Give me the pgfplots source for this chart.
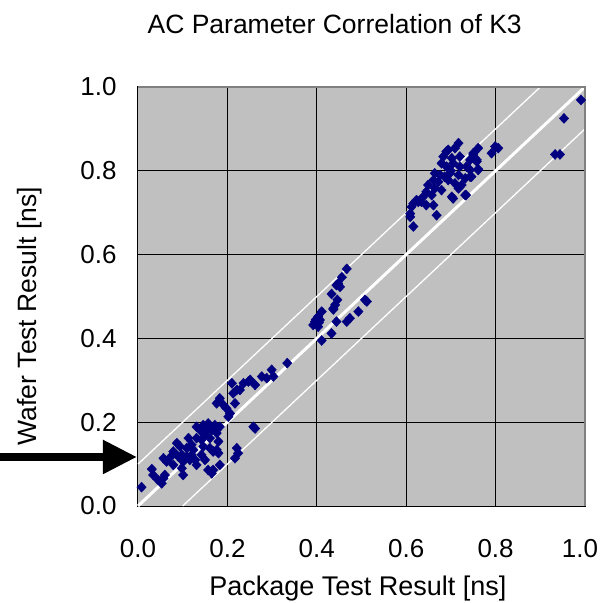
\documentclass[border=0pt]{standalone}
\usepackage{fontspec}
\setmainfont{Liberation Sans}
\usepackage{pgfplots}
\pgfplotsset{compat=1.18}
\usepackage{pgfplotstable}
\usetikzlibrary{arrows.meta}

\definecolor{bggray}{HTML}{C0C0C0}
\definecolor{ptblue}{HTML}{000080}
\definecolor{edgegray}{HTML}{808080}

% package result vs wafer result
\pgfplotstableread{
x y
0.008 0.045
0.031 0.088
0.034 0.074
0.045 0.062
0.053 0.054
0.057 0.066
0.060 0.074
0.057 0.114
0.064 0.106
0.072 0.116
0.079 0.130
0.087 0.150
0.094 0.142
0.098 0.122
0.101 0.106
0.109 0.118
0.116 0.110
0.120 0.122
0.113 0.162
0.120 0.146
0.131 0.189
0.139 0.181
0.146 0.193
0.157 0.197
0.165 0.181
0.150 0.169
0.142 0.158
0.131 0.162
0.161 0.162
0.176 0.174
0.180 0.154
0.183 0.189
0.161 0.138
0.168 0.130
0.176 0.134
0.142 0.122
0.150 0.110
0.157 0.086
0.165 0.078
0.168 0.086
0.183 0.098
0.180 0.126
0.128 0.110
0.131 0.098
0.098 0.090
0.101 0.074
0.221 0.138
0.224 0.126
0.217 0.114
0.258 0.189
0.262 0.185
0.176 0.245
0.183 0.257
0.191 0.241
0.198 0.233
0.206 0.221
0.202 0.213
0.217 0.245
0.221 0.277
0.213 0.269
0.228 0.277
0.236 0.293
0.247 0.297
0.262 0.289
0.146 0.142
0.124 0.134
0.109 0.138
0.090 0.118
0.079 0.098
0.172 0.193
0.154 0.181
0.210 0.293
0.251 0.301
0.277 0.309
0.288 0.305
0.299 0.325
0.303 0.309
0.334 0.341
}\lowgroup

\pgfplotstableread{
x y
0.467 0.566
0.456 0.546
0.448 0.531
0.452 0.523
0.444 0.527
0.433 0.506
0.446 0.492
0.441 0.480
0.437 0.469
0.437 0.472
0.411 0.464
0.403 0.452
0.396 0.440
0.392 0.432
0.403 0.428
0.407 0.444
0.400 0.436
0.398 0.445
0.405 0.438
0.411 0.395
0.433 0.412
0.444 0.440
0.467 0.440
0.474 0.448
0.493 0.464
0.508 0.492
0.512 0.488
}\midgroup

\pgfplotstableread{
x y
0.717 0.866
0.709 0.854
0.694 0.850
0.690 0.846
0.761 0.854
0.799 0.858
0.806 0.854
0.791 0.842
0.750 0.838
0.750 0.842
0.743 0.826
0.758 0.822
0.758 0.826
0.720 0.834
0.702 0.830
0.683 0.834
0.679 0.818
0.690 0.810
0.705 0.818
0.720 0.810
0.735 0.810
0.743 0.802
0.761 0.802
0.761 0.804
0.700 0.800
0.664 0.794
0.676 0.790
0.698 0.794
0.717 0.790
0.732 0.782
0.746 0.786
0.743 0.786
0.686 0.786
0.661 0.778
0.672 0.774
0.694 0.778
0.709 0.770
0.649 0.766
0.664 0.758
0.679 0.754
0.717 0.758
0.724 0.766
0.645 0.750
0.657 0.742
0.638 0.738
0.634 0.726
0.627 0.726
0.623 0.730
0.616 0.722
0.645 0.718
0.661 0.718
0.705 0.734
0.702 0.738
0.732 0.742
0.734 0.742
0.612 0.714
0.609 0.698
0.609 0.690
0.668 0.694
0.616 0.667
0.991 0.969
0.953 0.925
0.933 0.839
0.944 0.839
}\highgroup

\begin{document}
\begin{tikzpicture}
\begin{axis}[
  name=ax,
  width=447pt, height=419pt,
  scale only axis,
  xmin=0, xmax=1, ymin=0, ymax=1,
  xtick={0,0.2,0.4,0.6,0.8,1},
  ytick={0,0.2,0.4,0.6,0.8,1},
  xticklabels={0.0,0.2,0.4,0.6,0.8,{\hspace*{-10pt}1.0}},
  grid=major,
  major grid style={black, line width=1pt},
  axis background/.style={fill=bggray},
  axis line style={black, line width=1pt},
  tick align=inside,
  xtick pos=left, ytick pos=left,
  major tick length=7pt,
  tick style={black, line width=1pt},
  /pgf/number format/assume math mode=true,
  /pgf/number format/.cd, fixed, fixed zerofill, precision=1,
  /pgfplots/.cd,
  ticklabel style={font=\fontsize{26}{30}\selectfont},
  xticklabel style={yshift=-30pt},
  yticklabel style={xshift=-18pt},
  clip=false,
]
  % reference lines: y = x and +/- 0.1 ns
  \addplot[white, line width=3pt] coordinates {(0,0) (1,1)};
  \addplot[white, line width=1.3pt] coordinates {(0,0.1) (0.9,1)};
  \addplot[white, line width=1.3pt] coordinates {(0.1,0) (1,0.9)};

  \addplot[only marks, mark=diamond*, mark size=5pt, color=ptblue,
    mark options={xscale=1.25}] table {\lowgroup};
  \addplot[only marks, mark=diamond*, mark size=5pt, color=ptblue,
    mark options={xscale=1.25}] table {\midgroup};
  \addplot[only marks, mark=diamond*, mark size=5pt, color=ptblue,
    mark options={xscale=1.25}] table {\highgroup};

  \draw[edgegray, line width=1.2pt] (rel axis cs:0,1) -- (rel axis cs:1,1) -- (rel axis cs:1,0);

  \node[anchor=base, font=\fontsize{26.5}{30}\selectfont] at ([yshift=53pt]rel axis cs:0.44,1) {AC Parameter Correlation of K3};
  \node[anchor=base, font=\fontsize{27}{30}\selectfont] at ([yshift=-89pt]rel axis cs:0.492,0) {Package Test Result [ns]};
  \node[anchor=base, rotate=90, font=\fontsize{26.5}{30}\selectfont] at ([xshift=-101pt]rel axis cs:0,0.453) {Wafer Test Result [ns]};

  \draw[black, line width=8pt, -{Triangle[length=34pt, width=32pt]}] ([xshift=-138pt]axis cs:0,0.117) -- ([xshift=-1pt]axis cs:0,0.117);
\end{axis}
\pgfresetboundingbox
\path ([shift={(-138pt,-97pt)}]ax.south west) rectangle ([shift={(15pt,87pt)}]ax.north east);
\end{tikzpicture}
\end{document}
